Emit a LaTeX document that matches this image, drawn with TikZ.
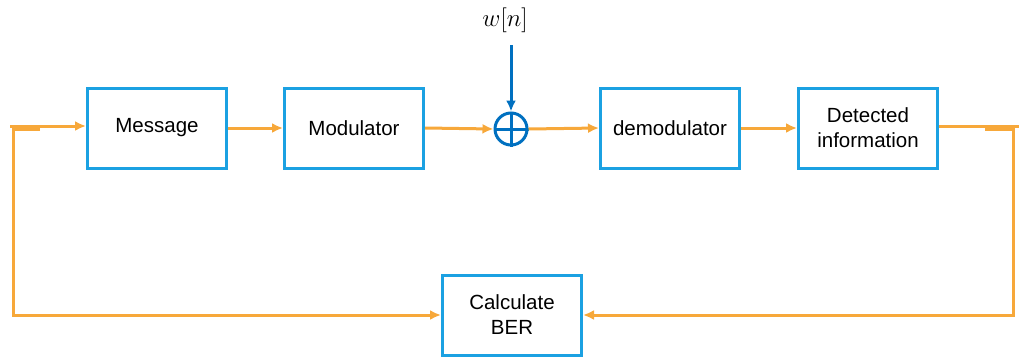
\documentclass[tikz,border=0pt]{standalone}
\usepackage{fontspec}
\setmainfont{Liberation Sans}
\usetikzlibrary{arrows.meta}
\definecolor{boxblue}{RGB}{27,161,226}
\definecolor{sumblue}{RGB}{0,112,192}
\definecolor{wire}{RGB}{247,168,58}
\tikzset{block/.style={draw=boxblue, line width=3pt, minimum width=139pt, minimum height=80pt, align=center, font=\fontsize{20.5}{25}\selectfont},
         flow/.style={draw=wire, line width=3pt, -{Latex[length=11pt,width=10pt]}},
         line/.style={draw=wire, line width=3pt}}

\begin{document}
\begin{tikzpicture}[x=1pt,y=-1pt]
  \useasboundingbox (0,0) rectangle (1019,356);
  % forward chain
  \node[block] (msg)   at (157,128) {Message};
  \node[block] (mod)   at (354,128) {Modulator};
  \node[draw=sumblue, line width=3pt, circle, minimum size=32pt, inner sep=0pt] (sum) at (511,129) {};
  \draw[sumblue, line width=3pt] (sum.north) -- (sum.south) (sum.west) -- (sum.east);
  \node[block] (demod) at (670,128) {demodulator};
  \node[block] (det)   at (868,128) {Detected\\information};
  \node[block] (ber)   at (512,315) {Calculate\\BER};
  % noise input
  \node[font=\fontsize{27}{30}\selectfont] (noise) at (505,20) {$w[n]$};
  \coordinate (ntop) at (511,45);
  \draw[sumblue, line width=3pt, -{Latex[length=11pt,width=10pt]}] (ntop) -- (sum.north);
  % wires
  \coordinate (in)  at (10,126);
  \coordinate (out) at (1019,126);
  \path[flow] (in) -- (msg.west |- in);
  \path[flow] (msg) -- (mod);
  \path[flow] (mod.east) -- (sum.west);
  \path[flow] (sum.east) -- (demod.west);
  \path[flow] (demod) -- (det);
  \path[line] (det.east |- out) -- (out);
  % feedback to the BER block
  \coordinate (lt) at (40,129);
  \coordinate (rt) at (985,129);
  \path[flow] (lt) -- (13,129) |- (ber.west);
  \path[flow] (rt) -- (1013,129) |- (ber.east);
\end{tikzpicture}
\end{document}
